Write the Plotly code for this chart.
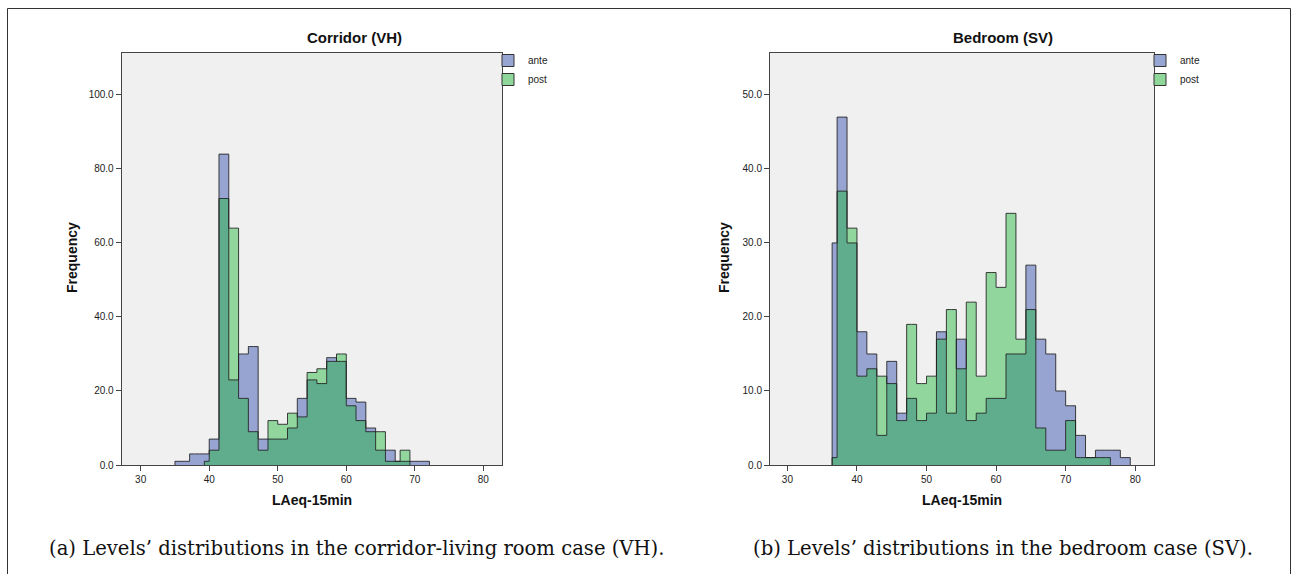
import plotly.graph_objects as go

# ---------------- data (bin centres of non-empty bins, counts) ----------------
vh_ante_x = [35.0, 36.43, 37.86, 39.29, 40.71, 42.14, 43.57, 45.0, 46.43, 47.86, 49.29,
             50.71, 52.14, 53.57, 55.0, 56.43, 57.86, 59.29, 60.71, 62.14, 63.57, 65.0,
             66.43, 67.86, 69.29, 70.71, 72.14]
vh_ante_y = [1, 1, 3, 3, 7, 84, 23, 30, 32, 7, 7,
             7, 10, 18, 23, 22, 29, 28, 18, 17, 10, 4,
             4, 1, 1, 1, 1]

vh_post_x = [39.29, 40.71, 42.14, 43.57, 45.0, 46.43, 47.86, 49.29, 50.71, 52.14, 53.57,
             55.0, 56.43, 57.86, 59.29, 60.71, 62.14, 63.57, 65.0, 66.43, 69.29]
vh_post_y = [1, 4, 72, 64, 18, 9, 4, 12, 11, 14, 13,
             25, 26, 28, 30, 16, 12, 9, 9, 1, 4]

sv_ante_x = [36.43, 37.86, 39.29, 40.71, 42.14, 43.57, 45.0, 46.43, 47.86, 49.29, 50.71,
             52.14, 53.57, 55.0, 56.43, 57.86, 59.29, 60.71, 62.14, 63.57, 65.0, 66.43,
             67.86, 69.29, 70.71, 72.14, 73.57, 75.0, 76.43, 79.29]
sv_ante_y = [30, 47, 30, 18, 15, 4, 14, 7, 9, 6, 7,
             18, 7, 17, 6, 7, 9, 9, 15, 15, 27, 17,
             15, 10, 8, 4, 1, 2, 2, 1]

sv_post_x = [36.43, 37.86, 39.29, 40.71, 42.14, 43.57, 45.0, 46.43, 47.86, 49.29, 50.71,
             52.14, 53.57, 55.0, 56.43, 57.86, 59.29, 60.71, 62.14, 63.57, 65.0, 66.43,
             67.86, 69.29, 70.71, 72.14, 73.57, 75.0, 76.43]
sv_post_y = [1, 37, 32, 12, 13, 12, 11, 6, 19, 11, 12,
             17, 21, 13, 22, 12, 26, 24, 34, 17, 21, 5,
             2, 2, 6, 1, 1, 1, 1]

x_ticks = [30, 40, 50, 60, 70, 80]
vh_y_ticks = [0, 20, 40, 60, 80, 100]
sv_y_ticks = [0, 10, 20, 30, 40, 50]
series_names = ["ante", "post"]
titles = ["Corridor (VH)", "Bedroom (SV)"]
x_title = "LAeq-15min"
y_title = "Frequency"
captions = ["(a) Levels’ distributions in the corridor-living room case (VH).",
            "(b) Levels’ distributions in the bedroom case (SV)."]

# ---------------- styling ----------------
W, H = 1298, 574
def px(v):
    return v / W
def py(v):
    return 1 - v / H

ANTE_FILL = "rgba(92,113,190,0.60)"
POST_FILL = "rgba(30,184,58,0.46)"
ANTE_LEG = "#97a5d3"
POST_LEG = "#8fd69b"
OUTLINE = "rgba(30,30,30,0.85)"
SANS = "Liberation Sans, Arial, sans-serif"
SERIF = "'DejaVu Serif', serif"

fig = go.Figure()

def closed(xs, ys):
    return [xs[0]] + xs + [xs[-1]], [0] + ys + [0]

panels = [
    ("x", "y", "legend", [(vh_ante_x, vh_ante_y, ANTE_FILL, ANTE_LEG), (vh_post_x, vh_post_y, POST_FILL, POST_LEG)]),
    ("x2", "y2", "legend2", [(sv_ante_x, sv_ante_y, ANTE_FILL, ANTE_LEG), (sv_post_x, sv_post_y, POST_FILL, POST_LEG)]),
]

for xa, ya, leg, series in panels:
    for xs, ys, fillc, _ in series:
        cx, cy = closed(xs, ys)
        fig.add_trace(go.Scatter(x=cx, y=cy, xaxis=xa, yaxis=ya, mode="lines",
                                 line=dict(shape="hvh", width=0, color=fillc),
                                 fill="tozeroy", fillcolor=fillc,
                                 showlegend=False, hoverinfo="skip"))
    for xs, ys, _, _ in series:
        cx, cy = closed(xs, ys)
        fig.add_trace(go.Scatter(x=cx, y=cy, xaxis=xa, yaxis=ya, mode="lines",
                                 line=dict(shape="hvh", width=1, color=OUTLINE),
                                 showlegend=False, hoverinfo="skip"))
    for name, (_, _, _, legc) in zip(series_names, series):
        fig.add_trace(go.Bar(x=[None], y=[None], xaxis=xa, yaxis=ya, name=name,
                             marker=dict(color=legc, line=dict(color="#333333", width=1)),
                             legend=leg))

axis_common = dict(showgrid=False, zeroline=False, showline=True, linecolor="#444444",
                   linewidth=1, mirror=True, ticks="outside", ticklen=5, tickwidth=1,
                   tickcolor="#444444", automargin=False,
                   tickfont=dict(family=SANS, size=10, color="#222222"))

fig.update_layout(
    width=W, height=H,
    margin=dict(l=0, r=0, t=0, b=0, pad=0, autoexpand=False),
    paper_bgcolor="white",
    plot_bgcolor="#f0f0f0",
    barmode="overlay",
    xaxis=dict(domain=[px(121.7), px(502.3)], range=[27.23, 82.77], tickvals=x_ticks,
               anchor="y", **axis_common),
    yaxis=dict(domain=[py(465), py(52.7)], range=[0, 111.4], tickvals=vh_y_ticks,
               tickformat=".1f", anchor="x", **axis_common),
    xaxis2=dict(domain=[px(770), px(1154)], range=[27.5, 82.7], tickvals=x_ticks,
                anchor="y2", **axis_common),
    yaxis2=dict(domain=[py(465), py(52.7)], range=[0, 55.7], tickvals=sv_y_ticks,
                tickformat=".1f", anchor="x2", **axis_common),
    legend=dict(x=px(488), y=py(46), xanchor="left", yanchor="top",
                font=dict(family=SANS, size=10, color="#222222"),
                bgcolor="rgba(0,0,0,0)", tracegroupgap=0, itemwidth=30),
    legend2=dict(x=px(1140), y=py(46), xanchor="left", yanchor="top",
                 font=dict(family=SANS, size=10, color="#222222"),
                 bgcolor="rgba(0,0,0,0)", tracegroupgap=0, itemwidth=30),
)

ann = []
for t, cx in zip(titles, [354, 1003]):
    ann.append(dict(text="<b>%s</b>" % t, x=px(cx), y=py(37), xref="paper", yref="paper",
                    xanchor="center", yanchor="middle",
                    showarrow=False, font=dict(family=SANS, size=15, color="#111111")))
for cx in [312, 962]:
    ann.append(dict(text="<b>%s</b>" % x_title, x=px(cx), y=py(500), xref="paper", yref="paper",
                    xanchor="center", yanchor="middle",
                    showarrow=False, font=dict(family=SANS, size=14, color="#111111")))
for cx in [72, 724]:
    ann.append(dict(text="<b>%s</b>" % y_title, x=px(cx), y=py(258), xref="paper", yref="paper",
                    xanchor="center", yanchor="middle",
                    showarrow=False, textangle=-90, font=dict(family=SANS, size=14, color="#111111")))
for t, cx in zip(captions, [356, 1003]):
    ann.append(dict(text=t, x=px(cx), y=py(548), xref="paper", yref="paper",
                    xanchor="center", yanchor="middle",
                    showarrow=False, font=dict(family=SERIF, size=19.6, color="#111111")))
fig.update_layout(annotations=ann)

fig.add_shape(type="rect", xref="paper", yref="paper",
              x0=px(7.5), x1=px(1290.5), y0=py(590), y1=py(8.5),
              line=dict(color="#333333", width=1), fillcolor="rgba(0,0,0,0)", layer="below")

fig.write_html("out.html")
